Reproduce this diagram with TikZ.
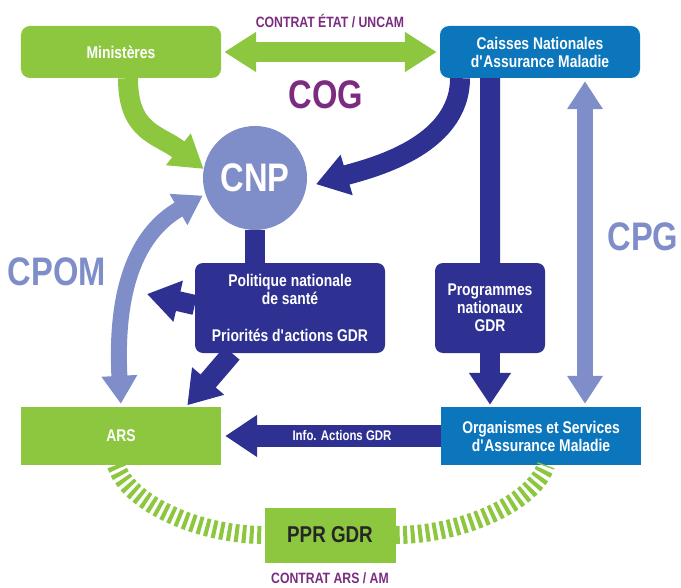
\documentclass[tikz,border=0pt]{standalone}
\usepackage{fontspec}
\setmainfont{Liberation Sans}[FakeStretch=0.82]
\usepackage{tikz}
\usetikzlibrary{arrows.meta}

\definecolor{agreen}{HTML}{8DC63F}
\definecolor{ablue}{HTML}{0B76BC}
\definecolor{anavy}{HTML}{2E3192}
\definecolor{alight}{HTML}{7F8DC9}
\definecolor{apurple}{HTML}{7B2C80}

\newcommand{\diagboxfont}{\bfseries\fontsize{17}{18}\selectfont}
\newcommand{\diaglabelfont}{\bfseries\fontsize{15}{17}\selectfont}
\newcommand{\diagbigfont}{\bfseries\fontsize{40}{44}\selectfont}
\newcommand{\diagpprfont}{\bfseries\fontsize{23}{25}\selectfont}

\begin{document}
\begin{tikzpicture}[
    x=1bp, y=-1bp,
    greenbox/.style={
        rectangle, fill=agreen, text=white, align=center,
        minimum width=200bp, minimum height=52bp, inner sep=0pt,
        font=\diagboxfont
    },
    bluebox/.style={
        rectangle, fill=ablue, text=white, align=center,
        minimum width=200bp, minimum height=52bp, inner sep=0pt,
        font=\diagboxfont
    },
    navybox/.style={
        rectangle, fill=anavy, text=white, align=center,
        rounded corners=8bp, inner sep=0pt, font=\diagboxfont
    },
    bigtext/.style={font=\diagbigfont, text=alight},
    purpletext/.style={font=\diaglabelfont, text=apurple},
    garrow/.style={draw=agreen, line width=20bp, ->,
        >={Triangle[length=32bp,width=38bp]}},
    navyline/.style={draw=anavy, line width=20bp},
    navyarrow/.style={draw=anavy, line width=20bp, ->,
        >={Triangle[length=32bp,width=40bp]}},
    larrow/.style={draw=alight, line width=16bp, <->,
        >={Triangle[length=28bp,width=34bp]}},
    dashlink/.style={draw=agreen, line width=18bp,
        dash pattern=on 4bp off 3.5bp}
]
\useasboundingbox (0,0) rectangle (681,588);

%% Top row
\node (min) [greenbox, rounded corners=9bp] at (121,52) {Ministères};
\node (cna) [bluebox, rounded corners=9bp] at (540,52)
    {Caisses Nationales\\d\textquotesingle Assurance Maladie};

%% CNP
\node (cnp) [circle, fill=alight, text=white, minimum size=104bp,
    inner sep=0pt, font=\diagbigfont] at (255,178) {CNP};

%% Middle boxes
\node (pol) [navybox, minimum width=190bp, minimum height=90bp] at (290,308)
    {Politique nationale\\de santé\\[19bp]Priorités d\textquotesingle actions GDR};
\node (prog) [navybox, minimum width=110bp, minimum height=90bp] at (490,308)
    {Programmes\\nationaux\\GDR};

%% Bottom row
\node (ars) [greenbox, minimum height=58bp] at (121,436) {ARS};
\node (osam) [bluebox, minimum height=58bp] at (541,436)
    {Organismes et Services\\d\textquotesingle Assurance Maladie};
\node (ppr) [greenbox, minimum width=131bp, minimum height=55bp,
    text=black!85, font=\diagpprfont] at (330,535) {PPR GDR};

%% Labels
\node (etat) [purpletext] at (330,21) {CONTRAT ÉTAT / UNCAM};
\node (cog) [font=\diagbigfont, text=apurple] at (326,95) {COG};
\node (cpom) [bigtext] at (57,272) {CPOM};
\node (cpg) [bigtext] at (643,237) {CPG};
\node (arsam) [purpletext] at (330,578) {CONTRAT ARS / AM};
\coordinate (polout) at (147,294);

%% Arrows
\draw [garrow, <->, shorten <=3bp, shorten >=3bp] (min.east) -- (cna.west);
\draw [garrow] ([xshift=7bp]min.south) .. controls +(0,55) and +(-45,-35) .. (cnp.170);
\draw [navyarrow, shorten >=10bp] ([xshift=-80bp]cna.south)
    .. controls +(0,70) and +(60,-18) .. (cnp.-10);
\draw [navyline] ([xshift=-50bp]cna.south) -- (prog.north);
\draw [navyarrow, shorten >=2bp] (prog.south) -- (prog.south |- osam.north);
\draw [larrow, shorten <=3bp, shorten >=3bp] ([xshift=45bp]cna.south)
    -- ([xshift=45bp]cna.south |- osam.north);
\draw [navyline] (cnp.south) -- (pol.north -| cnp.south);
\draw [navyarrow] ([yshift=3bp]pol.west) -- (polout);
\draw [navyarrow, shorten >=2bp] ([xshift=-58bp]pol.south) -- ([xshift=65bp]ars.north);
\draw [larrow, shorten <=3bp, shorten >=3bp] (ars.north)
    .. controls +(-6,-115) and +(-70,40) .. (cnp.198);
\draw [navyarrow, line width=22bp, shorten >=4bp] (osam.west) -- (ars.east)
    node (info) [pos=0.45, font=\bfseries\fontsize{14}{16}\selectfont, text=white]
    {Info. Actions GDR};

%% PPR links
\draw [dashlink] ([xshift=-5bp]ars.south) .. controls +(12,38) and +(-65,0) .. (ppr.west);
\draw [dashlink] (ppr.east) .. controls +(65,0) and +(-12,38) .. ([xshift=5bp]osam.south);

\end{tikzpicture}
\end{document}
